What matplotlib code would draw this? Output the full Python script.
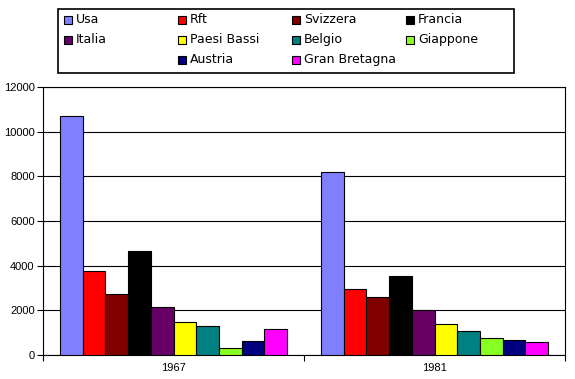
import matplotlib.pyplot as plt
from matplotlib.patches import Rectangle
import numpy as np

years = ["1967", "1981"]
countries = ["Usa", "Rft", "Svizzera", "Francia", "Italia", "Paesi Bassi",
             "Belgio", "Giappone", "Austria", "Gran Bretagna"]
values_1967 = [10700, 3750, 2720, 4650, 2130, 1500, 1280, 310, 610, 1160]
values_1981 = [8200, 2950, 2600, 3540, 2000, 1380, 1060, 750, 660, 570]
colors = ["#8080ff", "#ff0000", "#800000", "#000000", "#660066", "#ffff00",
          "#008080", "#88ff22", "#000080", "#ff00ff"]

W, H = 575, 379
fig = plt.figure(figsize=(W / 100, H / 100), dpi=100)
ax = fig.add_axes([43 / W, 1 - 355 / H, (565 - 43) / W, (355 - 87) / H])

data = np.array([values_1967, values_1981])
x = np.arange(len(years))
bw = 0.087
n = len(countries)
for i, c in enumerate(countries):
    ax.bar(x + (i - (n - 1) / 2) * bw, data[:, i], width=bw, color=colors[i],
           edgecolor="black", linewidth=0.8, zorder=3)

ax.set_xlim(-0.5, 1.5)
ax.set_ylim(0, 12000)
ax.set_yticks(np.arange(0, 12001, 2000))
ax.yaxis.grid(True, color="black", linewidth=0.8, zorder=0)
ax.set_xticks(x)
ax.set_xticklabels(years)
ax.set_xticks([-0.5, 0.5, 1.5], minor=True)
ax.tick_params(axis="x", which="major", length=0, pad=6)
ax.tick_params(axis="x", which="minor", length=4, width=0.8, direction="out")
ax.tick_params(axis="y", length=4, width=0.8, direction="out", pad=2)
for lab in ax.get_xticklabels() + ax.get_yticklabels():
    lab.set_fontfamily("Liberation Sans")
    lab.set_fontsize(8)
for s in ax.spines.values():
    s.set_linewidth(0.8)

# legend box drawn Excel-style (row-major, third row shifted right)
fig.patches.append(Rectangle((58 / W, 1 - 73 / H), (514 - 58) / W, (73 - 9) / H,
                             transform=fig.transFigure, fill=False,
                             edgecolor="black", linewidth=1.2))
order = [(0, 0), (0, 1), (0, 2), (0, 3), (1, 0), (1, 1), (1, 2), (1, 3), (2, 1), (2, 2)]
col_x = [64, 178, 292, 406]
row_y = [19.5, 39.5, 59.5]
for i, c in enumerate(countries):
    r, col = order[i]
    mx, my = col_x[col], row_y[r]
    fig.patches.append(Rectangle((mx / W, 1 - (my + 4) / H), 8 / W, 8 / H,
                                 transform=fig.transFigure, facecolor=colors[i],
                                 edgecolor="black", linewidth=0.8))
    fig.text((mx + 12) / W, 1 - my / H, c, fontsize=9, va="center", ha="left",
             family="DejaVu Sans")

fig.savefig("out.png", dpi=100)
